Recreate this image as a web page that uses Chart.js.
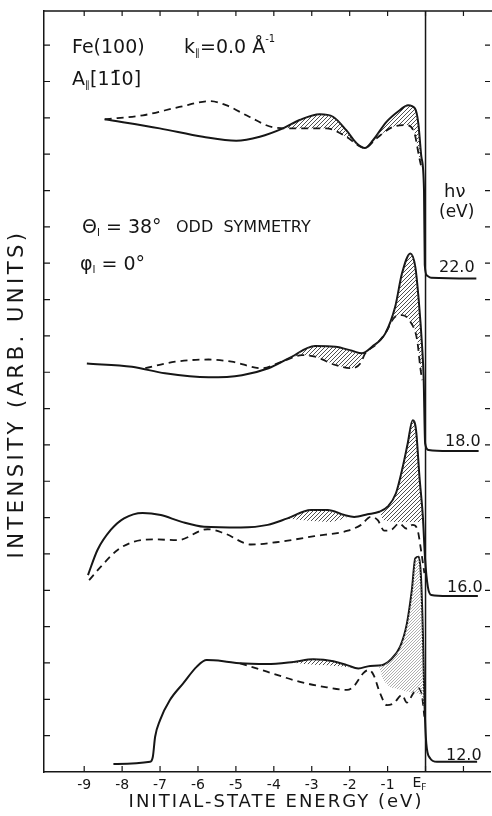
<!DOCTYPE html>
<html>
<head>
<meta charset="utf-8">
<script src="https://cdn.jsdelivr.net/npm/chart.js@4.4.1/dist/chart.umd.min.js"></script>
<style>
    html, body { margin: 0; padding: 0; background: #fff; }
    #wrap { width: 492px; height: 816px; }
</style>
</head>
<body>
<div id="wrap"><canvas id="arpesChart" width="492" height="816"></canvas></div>
<script>
// axis ticks
const xTicks = [-9, -8, -7, -6, -5, -4, -3, -2, -1, 0, 1];
const yTicks = [1, 2, 3, 4, 5, 6, 7, 8, 9, 10, 11, 12, 13, 14, 15, 16, 17, 18, 19, 20];
const photonEnergies = ['22.0', '18.0', '16.0', '12.0'];

// hv = 22.0 eV
const e22Solid = [-8.46, -7.01, -5.87, -4.99, -4.37, -3.76, -3.32, -2.79, -2.44, -2.09, -1.82, -1.60, -1.38, -1.03, -0.68, -0.46, -0.28, -0.19, -0.11, -0.04, -0.02, 0.04, 0.15, 1.34];
const i22Solid = [17.96, 17.71, 17.48, 17.37, 17.48, 17.71, 17.94, 18.10, 18.03, 17.66, 17.30, 17.17, 17.39, 17.89, 18.21, 18.35, 18.26, 17.85, 16.93, 16.01, 13.95, 13.66, 13.60, 13.58];
const e22Dashed = [-8.46, -7.45, -6.49, -5.69, -5.26, -4.65, -4.02, -3.50, -2.62, -2.09, -1.74, -1.60, -1.30, -0.86, -0.51, -0.29, -0.17, -0.10];
const i22Dashed = [17.96, 18.07, 18.30, 18.46, 18.35, 18.03, 17.74, 17.71, 17.71, 17.48, 17.22, 17.17, 17.43, 17.75, 17.80, 17.57, 16.93, 16.60];

// hv = 18.0 eV
const e18Solid = [-8.93, -7.74, -6.87, -5.72, -4.84, -4.14, -3.61, -2.91, -2.38, -1.94, -1.68, -1.41, -1.06, -0.80, -0.62, -0.40, -0.27, -0.18, -0.09, -0.05, -0.01, 0.08, 0.61, 1.40];
const i18Solid = [11.24, 11.15, 10.97, 10.86, 10.92, 11.11, 11.38, 11.72, 11.70, 11.59, 11.52, 11.70, 12.07, 12.80, 13.72, 14.27, 13.90, 12.99, 11.70, 10.87, 9.04, 8.86, 8.83, 8.83];
const e18Dashed = [-7.39, -6.60, -5.72, -5.11, -4.31, -3.79, -3.26, -2.91, -2.38, -1.94, -1.72, -1.59, -1.32, -1.06, -0.80, -0.62, -0.40, -0.22, -0.14, -0.09];
const i18Dashed = [11.11, 11.29, 11.35, 11.29, 11.11, 11.29, 11.47, 11.43, 11.20, 11.11, 11.24, 11.52, 11.75, 12.07, 12.53, 12.57, 12.39, 11.88, 11.15, 10.78];

// hv = 16.0 eV
const e16Solid = [-8.90, -8.65, -8.30, -7.95, -7.46, -6.98, -6.45, -5.84, -4.87, -4.16, -3.64, -3.02, -2.58, -2.14, -1.88, -1.53, -1.22, -1.00, -0.78, -0.60, -0.47, -0.34, -0.25, -0.16, -0.07, -0.01, 0.06, 0.15, 0.59, 1.38];
const i16Solid = [5.42, 6.11, 6.66, 6.98, 7.13, 7.07, 6.89, 6.75, 6.73, 6.80, 6.98, 7.21, 7.21, 7.07, 7.02, 7.09, 7.16, 7.30, 7.67, 8.40, 9.04, 9.68, 9.41, 8.12, 7.02, 5.83, 5.10, 4.87, 4.84, 4.84];
const e16Dashed = [-8.87, -8.56, -8.12, -7.68, -7.16, -6.54, -5.75, -5.31, -4.60, -3.81, -2.93, -2.05, -1.70, -1.44, -1.26, -1.09, -0.91, -0.69, -0.51, -0.34, -0.21, -0.12, -0.03];
const i16Dashed = [5.28, 5.65, 6.11, 6.34, 6.40, 6.38, 6.68, 6.57, 6.26, 6.34, 6.49, 6.64, 6.80, 7.02, 6.93, 6.64, 6.66, 6.84, 6.70, 6.80, 6.66, 6.11, 5.47];

// hv = 12.0 eV
const e12Solid = [-8.23, -7.26, -7.19, -7.13, -7.00, -6.74, -6.39, -6.03, -5.77, -5.33, -4.89, -4.18, -3.48, -2.96, -2.43, -2.07, -1.77, -1.46, -1.15, -0.93, -0.67, -0.49, -0.36, -0.27, -0.18, -0.12, -0.07, -0.03, 0.02, 0.12, 0.30, 1.36];
const i12Solid = [0.22, 0.28, 0.42, 0.97, 1.43, 1.98, 2.44, 2.90, 3.08, 3.05, 2.99, 2.97, 3.03, 3.10, 3.05, 2.94, 2.85, 2.92, 2.94, 3.08, 3.45, 4.09, 5.01, 5.88, 5.92, 5.37, 3.82, 1.98, 0.79, 0.38, 0.28, 0.28];
const e12Dashed = [-4.89, -4.18, -3.31, -2.60, -2.07, -1.90, -1.64, -1.50, -1.37, -1.20, -1.02, -0.84, -0.62, -0.49, -0.32, -0.18, -0.09, -0.03];
const i12Dashed = [2.99, 2.76, 2.48, 2.33, 2.26, 2.35, 2.72, 2.81, 2.67, 2.17, 1.84, 1.89, 2.12, 1.91, 2.17, 2.30, 2.07, 1.52];

// lower edges of the hatched areas (22.0 and 18.0 use the dashed curve)
const h22Range = [-3.85, -0.10];
const h18Range = [-3.80, -0.09];
const h16aE = [-3.65, -3.0, -2.5, -2.0];
const h16aI = [6.97, 6.90, 6.88, 7.03];
const h16bE = [-1.22, -1.10, -0.60, -0.06];
const h16bI = [7.14, 6.92, 6.87, 6.87];
const h12aE = [-3.70, -3.0, -2.4, -1.85];
const h12aI = [3.02, 2.95, 2.92, 2.86];
const h12bE = [-1.24, -1.11, -0.67, -0.32, -0.10, -0.03];
const h12bI = [2.93, 2.53, 2.26, 2.17, 2.07, 1.60];

const ink = '#161616';
const face = '"DejaVu Sans", sans-serif';

document.addEventListener('DOMContentLoaded', function() {
    const canvas = document.getElementById('arpesChart');
    const ctx = canvas.getContext('2d');

    function makeHatch(color, gap, width) {
        const c = document.createElement('canvas');
        c.width = gap;
        c.height = gap;
        const g = c.getContext('2d');
        g.strokeStyle = color;
        g.lineWidth = width;
        g.beginPath();
        g.moveTo(0, gap); g.lineTo(gap, 0);
        g.moveTo(-1, 1); g.lineTo(1, -1);
        g.moveTo(gap - 1, gap + 1); g.lineTo(gap + 1, gap - 1);
        g.stroke();
        return ctx.createPattern(c, 'repeat');
    }
    const denseHatch = makeHatch('#3a3a3a', 4, 0.9);
    const lightHatch = makeHatch('#9a9a9a', 3, 0.8);

    function interp(xs, ys, v) {
        for (let i = 1; i < xs.length; i++) {
            if (v <= xs[i]) {
                const t = (v - xs[i - 1]) / (xs[i] - xs[i - 1]);
                return ys[i - 1] + t * (ys[i] - ys[i - 1]);
            }
        }
        return ys[ys.length - 1];
    }
    function pts(xs, ys) {
        return xs.map((x, i) => ({ x: x, y: ys[i] }));
    }
    function clipPts(xs, ys, a, b) {
        const out = [{ x: a, y: interp(xs, ys, a) }];
        xs.forEach((x, i) => { if (x > a && x < b) out.push({ x: x, y: ys[i] }); });
        out.push({ x: b, y: interp(xs, ys, b) });
        return out;
    }

    const datasets = [];
    const invisible = {
        borderWidth: 0,
        borderColor: 'rgba(0,0,0,0)',
        pointRadius: 0,
        pointHoverRadius: 0,
        cubicInterpolationMode: 'monotone'
    };
    function addHatch(upE, upI, loE, loI, from, to, pattern) {
        const lowerIndex = datasets.length + 1;
        datasets.push(Object.assign({
            data: clipPts(upE, upI, from, to),
            fill: { target: lowerIndex, above: pattern, below: 'rgba(0,0,0,0)' }
        }, invisible));
        datasets.push(Object.assign({ data: clipPts(loE, loI, from, to), fill: false }, invisible));
    }
    addHatch(e22Solid, i22Solid, e22Dashed, i22Dashed, h22Range[0], h22Range[1], denseHatch);
    addHatch(e18Solid, i18Solid, e18Dashed, i18Dashed, h18Range[0], h18Range[1], denseHatch);
    addHatch(e16Solid, i16Solid, h16aE, h16aI, h16aE[0], h16aE[h16aE.length - 1], denseHatch);
    addHatch(e16Solid, i16Solid, h16bE, h16bI, h16bE[0], h16bE[h16bE.length - 1], denseHatch);
    addHatch(e12Solid, i12Solid, h12aE, h12aI, h12aE[0], h12aE[h12aE.length - 1], denseHatch);
    addHatch(e12Solid, i12Solid, h12bE, h12bI, h12bE[0], h12bE[h12bE.length - 1], lightHatch);

    const curves = [
        [e22Solid, i22Solid, e22Dashed, i22Dashed],
        [e18Solid, i18Solid, e18Dashed, i18Dashed],
        [e16Solid, i16Solid, e16Dashed, i16Dashed],
        [e12Solid, i12Solid, e12Dashed, i12Dashed]
    ];
    curves.forEach(function(c, k) {
        datasets.push({
            label: photonEnergies[k] + ' solid',
            data: pts(c[0], c[1]),
            borderColor: ink,
            borderWidth: 2,
            pointRadius: 0,
            fill: false,
            cubicInterpolationMode: 'monotone'
        });
        datasets.push({
            label: photonEnergies[k] + ' dashed',
            data: pts(c[2], c[3]),
            borderColor: ink,
            borderWidth: 1.8,
            borderDash: [7, 5],
            pointRadius: 0,
            fill: false,
            cubicInterpolationMode: 'monotone'
        });
    });

    function drawRich(g, x, y, parts) {
        parts.forEach(function(p) {
            g.font = p[1] + 'px ' + face;
            g.fillText(p[0], x, y + (p[2] || 0));
            x += g.measureText(p[0]).width;
        });
    }

    const figureText = {
        id: 'figureText',
        afterDraw(chart) {
            const g = chart.ctx;
            const a = chart.chartArea;
            const xs = chart.scales.x;
            const ys = chart.scales.y;
            g.save();
            g.strokeStyle = ink;
            g.fillStyle = ink;

            // top border and Fermi level line
            g.lineWidth = 1.5;
            g.beginPath();
            g.moveTo(a.left, a.top); g.lineTo(a.right + 2, a.top);
            const xF = xs.getPixelForValue(0);
            g.moveTo(xF, a.top); g.lineTo(xF, a.bottom);
            g.stroke();

            // inward ticks
            g.lineWidth = 1.2;
            g.beginPath();
            xTicks.forEach(function(v) {
                const px = xs.getPixelForValue(v);
                g.moveTo(px, a.bottom); g.lineTo(px, a.bottom - 6);
                g.moveTo(px, a.top); g.lineTo(px, a.top + 5);
            });
            yTicks.forEach(function(v) {
                const py = ys.getPixelForValue(v);
                g.moveTo(a.left, py); g.lineTo(a.left + 6, py);
                g.moveTo(a.right, py); g.lineTo(a.right - 5, py);
            });
            g.stroke();

            g.textBaseline = 'alphabetic';
            g.textAlign = 'left';

            // E_F tick label
            drawRich(g, xF - 13, 787, [['E', 14], ['F', 9, 3]]);

            // axis titles
            g.letterSpacing = '2px';
            g.font = '18px ' + face;
            g.textAlign = 'center';
            g.fillText('INITIAL-STATE ENERGY (eV)', 276, 807);
            g.save();
            g.translate(23, 394);
            g.rotate(-Math.PI / 2);
            g.letterSpacing = '3.5px';
            g.font = '21px ' + face;
            g.fillText('INTENSITY (ARB. UNITS)', 0, 0);
            g.restore();
            g.letterSpacing = '0px';
            g.textAlign = 'left';

            // header text
            drawRich(g, 72, 53, [['Fe(100)', 19]]);
            drawRich(g, 184, 53, [['k', 19], ['\u2225', 10, 3], ['=0.0 \u00c5', 19], ['-1', 10, -11]]);
            drawRich(g, 72, 85, [['A', 19], ['\u2225', 10, 3], ['[1', 19], ['1\u0304', 19], ['0]', 19]]);
            drawRich(g, 82, 233, [['\u0398', 19], ['I', 10, 3], [' = 38\u00b0', 19]]);
            drawRich(g, 176, 232, [['ODD  SYMMETRY', 16]]);
            drawRich(g, 80, 270, [['\u03c6', 19], ['I', 10, 3], [' = 0\u00b0', 19]]);

            // photon energy labels
            drawRich(g, 444, 197, [['h\u03bd', 18]]);
            drawRich(g, 439, 217, [['(eV)', 17]]);
            const labelY = [272, 446, 592, 760];
            const labelX = [439, 445, 447, 446];
            photonEnergies.forEach(function(t, k) {
                drawRich(g, labelX[k], labelY[k], [[t, 16]]);
            });
            g.restore();
        }
    };

    new Chart(ctx, {
        type: 'line',
        data: { datasets: datasets },
        options: {
            responsive: false,
            animation: false,
            events: [],
            layout: { padding: { top: 11, right: 2, left: 0, bottom: 0 } },
            plugins: {
                legend: { display: false },
                tooltip: { enabled: false },
                title: { display: false }
            },
            scales: {
                x: {
                    type: 'linear',
                    min: -10.06,
                    max: 1.70,
                    afterBuildTicks: function(s) { s.ticks = xTicks.map(v => ({ value: v })); },
                    afterFit: function(s) { s.height = 44; },
                    grid: { display: false, drawTicks: false },
                    border: { display: true, color: ink, width: 1.5 },
                    ticks: {
                        padding: 5,
                        autoSkip: false,
                        maxRotation: 0,
                        color: ink,
                        font: { family: face, size: 14 },
                        callback: function(v) { return (v === 0 || v === 1) ? '' : String(v); }
                    }
                },
                y: {
                    type: 'linear',
                    min: 0,
                    max: 20.94,
                    afterBuildTicks: function(s) { s.ticks = yTicks.map(v => ({ value: v })); },
                    afterFit: function(s) { s.width = 44; },
                    grid: { display: false, drawTicks: false },
                    border: { display: true, color: ink, width: 1.5 },
                    ticks: { display: false }
                }
            }
        },
        plugins: [figureText]
    });
});
</script>
</body>
</html>
